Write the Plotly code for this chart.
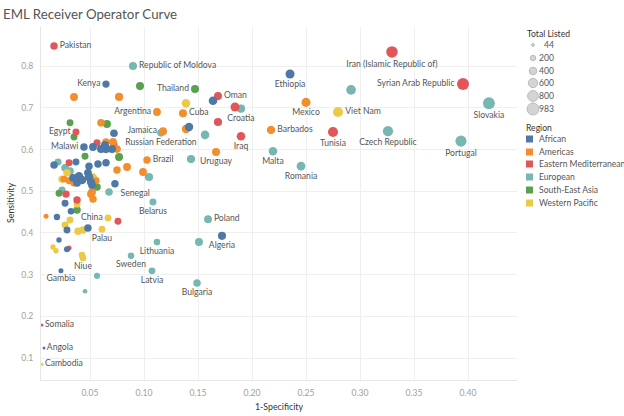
import math
import plotly.graph_objects as go

# ---------------- data ----------------
country = [
    "Pakistan", "Republic of Moldova", "Kenya", "Thailand", "Argentina", "Cuba", "Jamaica",
    "Russian Federation", "Egypt", "Malawi", "Brazil", "Uruguay", "Oman", "Croatia", "Iraq",
    "Barbados", "Malta", "Romania", "Ethiopia", "Mexico", "Viet Nam", "Tunisia", "Czech Republic",
    "Iran (Islamic Republic of)", "Syrian Arab Republic", "Slovakia", "Portugal", "Senegal",
    "Belarus", "China", "Palau", "Niue", "Lithuania", "Sweden", "Latvia", "Bulgaria", "Poland",
    "Algeria", "Gambia", "Somalia", "Angola", "Cambodia",
    # unlabeled marks
    "", "", "", "", "", "", "", "", "", "", "", "", "", "", "", "", "", "", "", "", "", "", "", "", "", "", "", "",
    "", "", "", "", "", "", "", "", "", "", "", "", "", "", "", "", "", "",
    "", "", "", "", "", "", "", "", "",
    "", "", "", "", "", "", "", "", "", "", "", "",
    "", "", "", "", "", "", "", "", "",
    "", "", "", "", "", "", "", "", "", "", "", "", "",
]
region = [
    "Eastern Mediterranean", "European", "African", "South-East Asia", "Americas", "Americas", "Americas",
    "European", "Eastern Mediterranean", "African", "Americas", "Americas", "Eastern Mediterranean", "European", "Eastern Mediterranean",
    "Americas", "European", "European", "African", "Americas", "Western Pacific", "Eastern Mediterranean", "European",
    "Eastern Mediterranean", "Eastern Mediterranean", "European", "European", "African",
    "European", "Western Pacific", "Western Pacific", "Western Pacific", "European", "European", "European", "European", "European",
    "African", "African", "Eastern Mediterranean", "African", "Western Pacific",
    # African unlabeled (28)
    "African", "African", "African", "African", "African", "African", "African", "African", "African", "African",
    "African", "African", "African", "African", "African", "African", "African", "African", "African", "African",
    "African", "African", "African", "African", "African", "African", "African", "African",
    # Americas unlabeled (18)
    "Americas", "Americas", "Americas", "Americas", "Americas", "Americas", "Americas", "Americas", "Americas",
    "Americas", "Americas", "Americas", "Americas", "Americas", "Americas", "Americas", "Americas", "Americas",
    # Eastern Mediterranean unlabeled (9)
    "Eastern Mediterranean", "Eastern Mediterranean", "Eastern Mediterranean", "Eastern Mediterranean",
    "Eastern Mediterranean", "Eastern Mediterranean", "Eastern Mediterranean", "Eastern Mediterranean",
    "Eastern Mediterranean",
    # European unlabeled (12)
    "European", "European", "European", "European", "European", "European", "European", "European",
    "European", "European", "European", "European",
    # South-East Asia unlabeled (9)
    "South-East Asia", "South-East Asia", "South-East Asia", "South-East Asia", "South-East Asia",
    "South-East Asia", "South-East Asia", "South-East Asia", "South-East Asia",
    # Western Pacific unlabeled (13)
    "Western Pacific", "Western Pacific", "Western Pacific", "Western Pacific", "Western Pacific",
    "Western Pacific", "Western Pacific", "Western Pacific", "Western Pacific", "Western Pacific",
    "Western Pacific", "Western Pacific", "Western Pacific",
]
one_minus_specificity = [
    0.0167, 0.0898, 0.0648, 0.1472, 0.1120, 0.1361, 0.1176,
    0.1157, 0.0370, 0.0444, 0.1028, 0.1667, 0.1685, 0.1898, 0.1898,
    0.2176, 0.2194, 0.2454, 0.2352, 0.2500, 0.2796, 0.2750, 0.3259,
    0.3296, 0.3954, 0.4194, 0.3935, 0.0731,
    0.1083, 0.0667, 0.0611, 0.0435, 0.1120, 0.0880, 0.1074, 0.1491, 0.1593,
    0.1722, 0.0231, 0.0056, 0.0074, 0.0056,
    # African
    0.1639, 0.1417, 0.0722, 0.0528, 0.0602, 0.0639, 0.0648, 0.0704, 0.0167, 0.0370,
    0.0491, 0.0574, 0.0648, 0.0398, 0.0426, 0.0343, 0.0380, 0.0481, 0.0491, 0.0509,
    0.0519, 0.0269, 0.0324, 0.0194, 0.0287, 0.0481, 0.0213, 0.0287,
    # Americas
    0.0352, 0.0769, 0.0602, 0.0648, 0.0713, 0.0750, 0.1389, 0.0843, 0.0750,
    0.0991, 0.0306, 0.0352, 0.0556, 0.0519, 0.0509, 0.0528, 0.0093, 0.0259,
    # Eastern Mediterranean
    0.1843, 0.1685, 0.0565, 0.0306, 0.0278, 0.0380, 0.0759, 0.0306, 0.0722,
    # European
    0.2917, 0.1565, 0.1435, 0.1046, 0.0204, 0.0269, 0.0315, 0.0241, 0.1509, 0.0565, 0.0454, 0.0676,
    # South-East Asia
    0.0963, 0.0315, 0.0352, 0.0657, 0.0454, 0.0769, 0.0565, 0.0213, 0.0380,
    # Western Pacific
    0.1389, 0.0287, 0.0241, 0.0528, 0.0546, 0.0380, 0.0315, 0.0269, 0.0389, 0.0435, 0.0157, 0.0185, 0.0426,
]
sensitivity = [
    0.848, 0.800, 0.757, 0.745, 0.690, 0.687, 0.644,
    0.640, 0.642, 0.606, 0.575, 0.594, 0.728, 0.698, 0.632,
    0.647, 0.596, 0.560, 0.781, 0.713, 0.690, 0.642, 0.644,
    0.834, 0.757, 0.711, 0.620, 0.518,
    0.474, 0.436, 0.409, 0.340, 0.378, 0.345, 0.309, 0.280, 0.433,
    0.393, 0.309, 0.179, 0.124, 0.085,
    # African
    0.717, 0.654, 0.639, 0.606, 0.601, 0.611, 0.601, 0.601, 0.563, 0.570,
    0.560, 0.565, 0.568, 0.536, 0.527, 0.532, 0.520, 0.544, 0.534, 0.522,
    0.515, 0.471, 0.452, 0.438, 0.407, 0.412, 0.383, 0.361,
    # Americas
    0.726, 0.726, 0.664, 0.618, 0.618, 0.601, 0.649, 0.558, 0.551,
    0.546, 0.525, 0.520, 0.525, 0.498, 0.493, 0.481, 0.440, 0.529,
    # Eastern Mediterranean
    0.702, 0.666, 0.616, 0.568, 0.493, 0.479, 0.428, 0.364, 0.612,
    # European
    0.743, 0.635, 0.577, 0.534, 0.570, 0.556, 0.548, 0.503, 0.378, 0.297, 0.260, 0.498,
    # South-East Asia
    0.752, 0.664, 0.630, 0.661, 0.584, 0.582, 0.510, 0.495, 0.455,
    # Western Pacific
    0.711, 0.544, 0.529, 0.534, 0.527, 0.469, 0.431, 0.419, 0.404, 0.407, 0.366, 0.357, 0.347,
]
total_listed = [
    380, 440, 360, 440, 420, 440, 440,
    400, 330, 380, 380, 440, 440, 460, 500,
    480, 500, 520, 560, 560, 700, 700, 720,
    900, 983, 960, 840, 380,
    330, 330, 330, 300, 300, 290, 320, 380, 420,
    450, 170, 60, 60, 44,
    # African
    500, 480, 400, 420, 440, 440, 460, 440, 380, 330,
    380, 380, 380, 500, 500, 420, 420, 420, 500, 460,
    420, 330, 300, 280, 330, 380, 200, 250,
    # Americas
    420, 460, 400, 400, 420, 400, 500, 420, 380,
    420, 330, 380, 330, 420, 420, 380, 170, 330,
    # Eastern Mediterranean
    560, 460, 360, 330, 380, 380, 330, 170, 330,
    # European
    640, 500, 460, 460, 330, 400, 400, 330, 440, 260, 150, 380,
    # South-East Asia
    440, 330, 330, 440, 330, 440, 380, 330, 380,
    # Western Pacific
    500, 380, 380, 380, 380, 330, 330, 330, 380, 380, 200, 200, 300,
]
size_legend_values = [44, 200, 400, 600, 800, 983]
region_order = ["African", "Americas", "Eastern Mediterranean", "European", "South-East Asia", "Western Pacific"]

# ---------------- styling ----------------
colors = {
    "African": "#4e79a7",
    "Americas": "#f28e2b",
    "Eastern Mediterranean": "#e15759",
    "European": "#76b7b2",
    "South-East Asia": "#59a14f",
    "Western Pacific": "#edc948",
}
label_pos = {
    "Pakistan": "middle right", "Republic of Moldova": "middle right", "Kenya": "middle left",
    "Thailand": "middle left", "Argentina": "middle left", "Cuba": "middle right",
    "Jamaica": "middle left", "Russian Federation": "bottom center", "Egypt": "middle left",
    "Malawi": "middle left", "Brazil": "middle right", "Uruguay": "bottom center",
    "Oman": "middle right", "Croatia": "bottom center", "Iraq": "bottom center",
    "Barbados": "middle right", "Malta": "bottom center", "Romania": "bottom center",
    "Ethiopia": "bottom center", "Mexico": "bottom center", "Viet Nam": "middle right",
    "Tunisia": "bottom center", "Czech Republic": "bottom center",
    "Iran (Islamic Republic of)": "bottom center", "Syrian Arab Republic": "middle left",
    "Slovakia": "bottom center", "Portugal": "bottom center", "Senegal": "bottom right",
    "Belarus": "bottom center", "China": "middle left", "Palau": "bottom center",
    "Niue": "bottom center", "Lithuania": "bottom center", "Sweden": "bottom center",
    "Latvia": "bottom center", "Bulgaria": "bottom center", "Poland": "middle right",
    "Algeria": "bottom center", "Gambia": "bottom center", "Somalia": "middle right",
    "Angola": "middle right", "Cambodia": "middle right",
}


def diam(v):
    return max(3.0, 12.0 * math.sqrt(v / 983.0))


FONT = "Lato, 'Open Sans', sans-serif"
W, H = 624, 416
L, R, T, B = 41, 517, 27, 380
FS = 8.6

fig = go.Figure()
draw_order = ["European", "South-East Asia", "Western Pacific", "Eastern Mediterranean", "Americas", "African"]
for reg in draw_order:
    idx = [i for i, r in enumerate(region) if r == reg]
    fig.add_trace(go.Scatter(
        x=[one_minus_specificity[i] for i in idx],
        y=[sensitivity[i] for i in idx],
        mode="markers+text",
        text=[country[i] for i in idx],
        textposition=[label_pos.get(country[i], "middle right") for i in idx],
        textfont=dict(family=FONT, size=FS, color="#555555"),
        marker=dict(size=[diam(total_listed[i]) for i in idx], color=colors[reg], line=dict(width=0), opacity=1),
        name=reg,
        showlegend=False,
        cliponaxis=False,
        hovertemplate="%{text}<br>1-Specificity %{x}<br>Sensitivity %{y}<extra>" + reg + "</extra>",
    ))


def px2paper(px, py):
    return (px - L) / (R - L), (B - py) / (B - T)


shapes = []
annotations = []

# size legend
tx, ty = px2paper(525, 34)
annotations.append(dict(text="Total Listed", x=tx, y=ty, xref="paper", yref="paper", xanchor="left",
                        yanchor="middle", showarrow=False, font=dict(family=FONT, size=FS, color="#333333")))
for v, py in zip(size_legend_values, [45, 58, 71, 83, 96, 109]):
    cx, cy = px2paper(533, py)
    r = diam(v) / 2
    shapes.append(dict(type="circle", xref="paper", yref="paper", xsizemode="pixel", ysizemode="pixel",
                       xanchor=cx, yanchor=cy, x0=-r, x1=r, y0=-r, y1=r,
                       fillcolor="#d4d4d4", line=dict(color="#b0b0b0", width=0.8)))
    lx, ly = px2paper(556, py)
    annotations.append(dict(text=str(v), x=lx, y=ly, xref="paper", yref="paper", xanchor="right",
                            yanchor="middle", showarrow=False, font=dict(family=FONT, size=FS, color="#555555")))

# colour legend
tx, ty = px2paper(524, 128)
annotations.append(dict(text="Region", x=tx, y=ty, xref="paper", yref="paper", xanchor="left",
                        yanchor="middle", showarrow=False, font=dict(family=FONT, size=FS, color="#333333")))
for reg, py in zip(region_order, [139, 152, 164, 177, 190, 203]):
    x0, y0 = px2paper(526, py + 3.5)
    x1, y1 = px2paper(533, py - 3.5)
    shapes.append(dict(type="rect", xref="paper", yref="paper", x0=x0, x1=x1, y0=y0, y1=y1,
                       fillcolor=colors[reg], line=dict(width=0)))
    lx, ly = px2paper(537, py)
    annotations.append(dict(text=reg, x=lx, y=ly, xref="paper", yref="paper", xanchor="left",
                            yanchor="middle", showarrow=False, font=dict(family=FONT, size=FS, color="#555555")))

# axis titles
ax, ay = px2paper(10, 203)
annotations.append(dict(text="Sensitivity", x=ax, y=ay, xref="paper", yref="paper", textangle=-90,
                        xanchor="center", yanchor="middle", showarrow=False,
                        font=dict(family=FONT, size=FS + 0.2, color="#333333")))
ax, ay = px2paper(279, 407)
annotations.append(dict(text="1-Specificity", x=ax, y=ay, xref="paper", yref="paper",
                        xanchor="center", yanchor="middle", showarrow=False,
                        font=dict(family=FONT, size=FS + 0.2, color="#333333")))

fig.update_layout(
    width=W, height=H, autosize=False,
    margin=dict(l=L, r=W - R, t=T, b=H - B, pad=0),
    paper_bgcolor="white", plot_bgcolor="white",
    title=dict(text="EML Receiver Operator Curve", x=3 / W, xanchor="left", xref="container",
               y=1 - 14 / H, yanchor="middle", yref="container",
               font=dict(family=FONT, size=13.3, color="#555555")),
    shapes=shapes, annotations=annotations,
    xaxis=dict(range=[(L - 36) / 1080, (R - 36) / 1080], tickvals=[0.05, 0.10, 0.15, 0.20, 0.25, 0.30, 0.35, 0.40],
               tickformat=".2f", showgrid=True, gridcolor="#efefef", gridwidth=1, zeroline=False,
               showline=True, linecolor="#e6e6e6", linewidth=1, ticks="",
               tickfont=dict(family=FONT, size=8.6, color="#a0a0a0"), ticklabelstandoff=5),
    yaxis=dict(range=[(399.7 - B) / 417, (399.7 - T) / 417], tickvals=[0.1, 0.2, 0.3, 0.4, 0.5, 0.6, 0.7, 0.8],
               tickformat=".1f", showgrid=True, gridcolor="#efefef", gridwidth=1, zeroline=False,
               showline=True, linecolor="#e6e6e6", linewidth=1, ticks="",
               tickfont=dict(family=FONT, size=8.6, color="#a0a0a0"), ticklabelstandoff=5),
    hovermode="closest",
)

fig.write_html("out.html", config={"displayModeBar": False},
               post_script="document.body.style.margin='0';document.body.style.padding='0';")
